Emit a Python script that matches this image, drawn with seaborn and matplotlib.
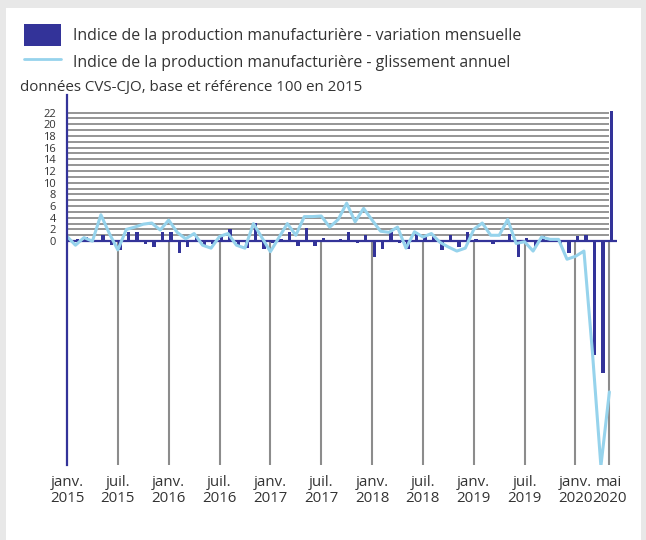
import numpy as np
import pandas as pd
import matplotlib.pyplot as plt
import seaborn as sns
from matplotlib.patches import Patch, Rectangle
from matplotlib.lines import Line2D

# valeurs, janv. 2015 -> mai 2020 (en %)
variation_mensuelle = [
    0.3, 0.4, 0.7, 0.2, 1.1, -0.6, -1.5, 1.6, 1.5, -0.5, -1.0, 1.6,
    1.6, -2.0, -1.0, 0.9, -0.6, -0.5, 0.7, 2.1, -0.9, -1.2, 3.1, -1.4,
    -0.3, 0.4, 1.6, -0.9, 2.2, -0.9, 0.6, 0.2, 0.3, 1.6, -0.3, 1.0,
    -2.7, -1.4, 1.6, -0.4, -1.3, 1.6, 0.7, 1.0, -1.5, 1.0, -1.0, 1.5,
    0.3, -0.2, -0.5, -0.2, 1.3, -2.7, 0.6, -1.0, 0.9, 0.3, -0.5, -2.1,
    0.9, 1.0, -19.5, -22.6, 22.3,
]
glissement_annuel = [
    0.8, -0.7, 0.6, 0.0, 4.5, 1.3, -1.5, 2.0, 2.4, 2.9, 3.1, 1.9,
    3.6, 1.5, 0.4, 1.3, -0.7, -1.2, 0.8, 1.3, -0.7, -1.2, 3.0, 0.6,
    -1.8, 0.6, 3.0, 1.0, 4.2, 4.2, 4.3, 2.4, 3.7, 6.5, 3.3, 5.6,
    3.6, 1.7, 1.5, 2.4, -1.2, 1.6, 0.7, 1.3, -0.2, -1.0, -1.7, -1.2,
    2.0, 3.1, 1.0, 1.0, 3.7, -0.4, -0.1, -1.7, 0.7, 0.3, 0.3, -3.1,
    -2.6, -1.7, -19.0, -38.5, -25.8,
]
x_labels = ['janv.\n2015', 'juil.\n2015', 'janv.\n2016', 'juil.\n2016',
            'janv.\n2017', 'juil.\n2017', 'janv.\n2018', 'juil.\n2018',
            'janv.\n2019', 'juil.\n2019', 'janv.\n2020', 'mai\n2020']
y_ticks = list(range(0, 23, 2))

label_bar = 'Indice de la production manufacturière - variation mensuelle'
label_line = 'Indice de la production manufacturière - glissement annuel'
subtitle = 'données CVS-CJO, base et référence 100 en 2015'

BAR = '#333399'
LINE = '#96d3ec'
GRID = '#8c8c8c'
TXT = '#333333'

df = pd.DataFrame({
    'mois': np.arange(len(variation_mensuelle)),
    'mensuelle': variation_mensuelle,
    'annuel': glissement_annuel,
})
tick_pos = list(range(0, len(df) - 4, 6)) + [len(df) - 1]

sns.set_style('white')
plt.rcParams['font.family'] = ['Open Sans', 'DejaVu Sans']

W, H = 646, 540
fig = plt.figure(figsize=(W / 100, H / 100), dpi=100)
fig.patch.set_facecolor('#e8e8e8')
fig.add_artist(Rectangle((6 / W, 0), 635 / W, 532 / H, transform=fig.transFigure,
                         facecolor='white', edgecolor='none', zorder=-5))

ax = fig.add_axes([67 / W, 1 - 465 / H, 550 / W, 370 / H])
ax.set_facecolor('none')

ymin, ymax = -38.3, 25
ax.hlines(range(1, 23), 0, len(df) - 1, color=GRID, lw=1.3, zorder=1)
ax.vlines(tick_pos[1:], ymin, 0, color=GRID, lw=1.5, zorder=1)
ax.axhline(0, color=BAR, lw=1.6, zorder=2)

sns.barplot(x=df['mois'] + 0.25, y=df['mensuelle'], native_scale=True, orient='x',
            width=0.4, color=BAR, saturation=1, linewidth=0, ax=ax, zorder=3)
sns.lineplot(data=df, x='mois', y='annuel', color=LINE, lw=2.2, ax=ax, zorder=4)

ax.set_xlim(0, 64.9)
ax.set_ylim(ymin, ymax)
ax.set_xticks(tick_pos)
ax.set_xticklabels(x_labels, fontsize=10.8, color=TXT, linespacing=1.1)
ax.set_yticks(y_ticks)
ax.set_yticklabels([str(v) for v in y_ticks], fontsize=8, color=TXT)
ax.tick_params(axis='x', length=0, pad=7)
ax.tick_params(axis='y', length=0, pad=8)
ax.set_xlabel('')
ax.set_ylabel('')
for s in ['top', 'right', 'bottom']:
    ax.spines[s].set_visible(False)
ax.spines['left'].set_color(BAR)
ax.spines['left'].set_linewidth(1.6)
ax.spines['left'].set_zorder(5)

handles = [Patch(facecolor=BAR, edgecolor='none'), Line2D([], [], color=LINE, lw=2)]
fig.legend(handles, [label_bar, label_line], loc='upper left',
           bbox_to_anchor=(24 / W, 1 - 24 / H), frameon=False, fontsize=11.4,
           borderpad=0, borderaxespad=0, handlelength=2.34, handleheight=1.72,
           handletextpad=0.76, labelspacing=0.32, labelcolor=TXT)
fig.text(20 / W, 1 - 88 / H, subtitle, fontsize=10.9, color=TXT, va='center', ha='left')

fig.savefig('out.png', dpi=100)
